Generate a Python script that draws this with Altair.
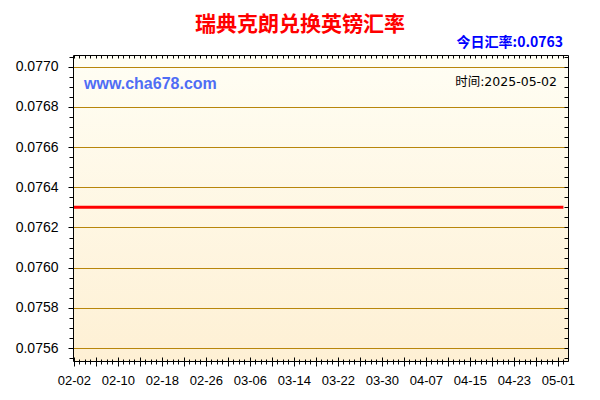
import altair as alt
import pandas as pd

# ---- data ----
START = "2025-02-02"
END = "2025-05-02"
DATES = pd.date_range(START, END, freq="D")
RATES = [
    0.0763, 0.0763, 0.0763, 0.0763, 0.0763, 0.0763, 0.0763, 0.0763, 0.0763, 0.0763,
    0.0763, 0.0763, 0.0763, 0.0763, 0.0763, 0.0763, 0.0763, 0.0763, 0.0763, 0.0763,
    0.0763, 0.0763, 0.0763, 0.0763, 0.0763, 0.0763, 0.0763, 0.0763, 0.0763, 0.0763,
    0.0763, 0.0763, 0.0763, 0.0763, 0.0763, 0.0763, 0.0763, 0.0763, 0.0763, 0.0763,
    0.0763, 0.0763, 0.0763, 0.0763, 0.0763, 0.0763, 0.0763, 0.0763, 0.0763, 0.0763,
    0.0763, 0.0763, 0.0763, 0.0763, 0.0763, 0.0763, 0.0763, 0.0763, 0.0763, 0.0763,
    0.0763, 0.0763, 0.0763, 0.0763, 0.0763, 0.0763, 0.0763, 0.0763, 0.0763, 0.0763,
    0.0763, 0.0763, 0.0763, 0.0763, 0.0763, 0.0763, 0.0763, 0.0763, 0.0763, 0.0763,
    0.0763, 0.0763, 0.0763, 0.0763, 0.0763, 0.0763, 0.0763, 0.0763, 0.0763, 0.0763,
]
Y_LABELS = [0.0756, 0.0758, 0.0760, 0.0762, 0.0764, 0.0766, 0.0768, 0.0770]
Y_MINOR = [round(0.07555 + 0.00005 * i, 5) for i in range(31)]
X_LABELS = ["2025-02-02", "2025-02-10", "2025-02-18", "2025-02-26", "2025-03-06",
            "2025-03-14", "2025-03-22", "2025-03-30", "2025-04-07", "2025-04-15",
            "2025-04-23", "2025-05-01"]
TITLE = "瑞典克朗兑换英镑汇率"
TODAY_TEXT = "今日汇率:0.0763"
SITE_TEXT = "www.cha678.com"
TIME_TEXT = "时间:2025-05-02"

df = pd.DataFrame({"date": DATES, "rate": RATES})


def dt(s):
    y, m, d = (int(p) for p in s.split("-"))
    return alt.DateTime(year=y, month=m, date=d)


x_labels = [dt(s) for s in X_LABELS]
x_major = [dt(d.strftime("%Y-%m-%d")) for d in pd.date_range(START, END, freq="4D")]
x_minor = [dt(d.strftime("%Y-%m-%d")) for d in DATES]

W, H = 495, 306
x_scale = alt.Scale(domain=[alt.DateTime(year=2025, month=2, date=1, hours=20),
                            alt.DateTime(year=2025, month=5, date=2, hours=20)])
y_scale = alt.Scale(domain=[0.0755355, 0.0770581], zero=False, nice=False)

LABEL_FONT = "Liberation Sans"
BLACK = "#000000"

base = alt.Chart(df)

bg = alt.Chart(pd.DataFrame({"k": [0]})).mark_rect(
    color=alt.Gradient(gradient="linear", x1=0, y1=0, x2=0, y2=1,
                       stops=[alt.GradientStop(offset=0, color="#FFFEF4"),
                              alt.GradientStop(offset=1, color="#FEF0D4")])
).encode(x=alt.value(0), x2=alt.value(W), y=alt.value(0), y2=alt.value(H))

main = base.mark_line(color="#FF0000", strokeWidth=3, clip=True).encode(
    x=alt.X("date:T", scale=x_scale, title=None,
            axis=alt.Axis(orient="bottom", values=x_labels, format="%m-%d",
                          ticks=False, tickSize=0, domain=True, domainColor=BLACK,
                          grid=False, zindex=1,
                          labelPadding=13, labelFont=LABEL_FONT, labelFontSize=13,
                          labelColor=BLACK, labelOverlap=False, labelFlush=False)),
    y=alt.Y("rate:Q", scale=y_scale, title=None,
            axis=alt.Axis(orient="left", values=Y_LABELS, format=".4f",
                          tickSize=5, tickColor=BLACK, domain=True, domainColor=BLACK,
                          grid=True, gridColor="#B8860B", gridWidth=1, zindex=1,
                          labelPadding=10, labelFont=LABEL_FONT, labelFontSize=14,
                          labelColor=BLACK, labelOverlap=False)),
)

ticks_a = base.mark_line(opacity=0).encode(
    x=alt.X("date:T", scale=x_scale, title=None,
            axis=alt.Axis(orient="bottom", values=x_major, labels=False,
                          offset=-4, tickSize=9, tickColor=BLACK,
                          domain=False, grid=False, zindex=1)),
    y=alt.Y("rate:Q", scale=y_scale, title=None,
            axis=alt.Axis(orient="left", values=Y_MINOR, labels=False,
                          tickSize=4, tickColor=BLACK, domain=False, grid=False,
                          zindex=1)),
)

ticks_b = base.mark_line(opacity=0).encode(
    x=alt.X("date:T", scale=x_scale, title=None,
            axis=alt.Axis(orient="top", values=x_minor, labels=False,
                          offset=-3, tickSize=3, tickColor=BLACK,
                          domain=False, grid=False, zindex=1)),
    y=alt.Y("rate:Q", scale=y_scale, title=None,
            axis=alt.Axis(orient="right", values=Y_MINOR, labels=False,
                          offset=-4, tickSize=4, tickColor=BLACK,
                          domain=False, grid=False, zindex=1)),
)

ticks_c = base.mark_line(opacity=0).encode(
    x=alt.X("date:T", scale=x_scale, title=None,
            axis=alt.Axis(orient="bottom", values=x_minor, labels=False,
                          offset=-2, tickSize=5, tickColor=BLACK,
                          domain=False, grid=False, zindex=1)),
    y=alt.Y("rate:Q", scale=y_scale, axis=None),
)

frame = base.mark_line(opacity=0).encode(
    x=alt.X("date:T", scale=x_scale, title=None,
            axis=alt.Axis(orient="top", labels=False, ticks=False, tickSize=0,
                          domain=True, domainColor=BLACK, grid=False, zindex=1)),
    y=alt.Y("rate:Q", scale=y_scale, title=None,
            axis=alt.Axis(orient="right", labels=False, ticks=False, tickSize=0,
                          domain=True, domainColor=BLACK, grid=False, zindex=1)),
)

title = alt.Chart(pd.DataFrame({"t": [TITLE]})).mark_text(
    align="center", baseline="middle", font="Noto Sans CJK SC", fontSize=21,
    fontWeight="bold", color="#FF0000"
).encode(text="t:N", x=alt.value(227), y=alt.value(-30))

today = alt.Chart(pd.DataFrame({"t": [TODAY_TEXT]})).mark_text(
    align="right", baseline="middle", font="Noto Sans CJK SC", fontSize=14,
    fontWeight="bold", color="#0000FF"
).encode(text="t:N", x=alt.value(490), y=alt.value(-12))

site = alt.Chart(pd.DataFrame({"t": [SITE_TEXT]})).mark_text(
    align="left", baseline="middle", font=LABEL_FONT, fontSize=16,
    fontWeight="bold", color="#4F6DF5"
).encode(text="t:N", x=alt.value(11), y=alt.value(29))

stamp = alt.Chart(pd.DataFrame({"t": [TIME_TEXT]})).mark_text(
    align="right", baseline="middle", font="DejaVu Sans, Noto Sans CJK SC", fontSize=12.5,
    color=BLACK
).encode(text="t:N", x=alt.value(484), y=alt.value(27))

chart = alt.layer(bg, main, ticks_a, ticks_b, ticks_c, frame,
                  title, today, site, stamp).resolve_axis(
    x="independent", y="independent"
).properties(
    width=W, height=H,
    autosize=alt.AutoSizeParams(type="none"),
    padding={"left": 65, "top": 47, "right": 24, "bottom": 31},
).configure_view(
    stroke=BLACK, strokeWidth=1,
).configure(background="#FFFFFF")

chart.save("out.html", embed_options={"renderer": "svg", "actions": False})
